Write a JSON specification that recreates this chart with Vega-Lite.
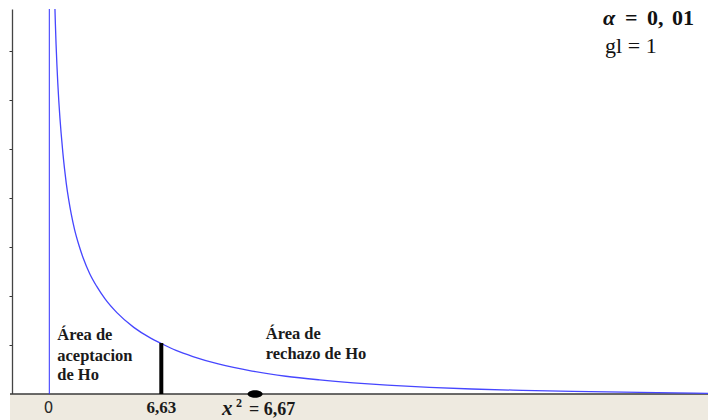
{
  "$schema": "https://vega.github.io/schema/vega-lite/v6.json",
  "width": 696,
  "height": 385,
  "autosize": "none",
  "padding": {"left": 12, "top": 9, "right": 0, "bottom": 26},
  "background": "white",
  "config": {"view": {"stroke": null}},
  "datasets": {
    "band": [{"x": -2.326, "x2": 38.99, "y": 0, "y2": -0.531}],
    "curve": [
      {"x": 0.30, "y": 8.31}, {"x": 0.33, "y": 7.91}, {"x": 0.36, "y": 7.55}, {"x": 0.40, "y": 7.14},
      {"x": 0.45, "y": 6.72}, {"x": 0.50, "y": 6.36}, {"x": 0.56, "y": 5.99}, {"x": 0.63, "y": 5.63},
      {"x": 0.70, "y": 5.32}, {"x": 0.80, "y": 4.93}, {"x": 0.90, "y": 4.60}, {"x": 1.0, "y": 4.31},
      {"x": 1.15, "y": 3.96}, {"x": 1.3, "y": 3.67}, {"x": 1.5, "y": 3.35}, {"x": 1.75, "y": 3.04},
      {"x": 2.0, "y": 2.78}, {"x": 2.4, "y": 2.45}, {"x": 2.8, "y": 2.20}, {"x": 3.3, "y": 1.94},
      {"x": 4.0, "y": 1.66}, {"x": 5.0, "y": 1.36}, {"x": 6.0, "y": 1.14}, {"x": 6.63, "y": 1.03},
      {"x": 7.5, "y": 0.89}, {"x": 8.5, "y": 0.765}, {"x": 10.0, "y": 0.615}, {"x": 12.0, "y": 0.468},
      {"x": 14.0, "y": 0.362}, {"x": 16.0, "y": 0.288}, {"x": 18.0, "y": 0.229}, {"x": 20.0, "y": 0.182},
      {"x": 22.5, "y": 0.137}, {"x": 25.0, "y": 0.102}, {"x": 28.0, "y": 0.075}, {"x": 31.0, "y": 0.053},
      {"x": 34.0, "y": 0.037}, {"x": 37.0, "y": 0.021}, {"x": 39.0, "y": 0.014}
    ],
    "zero": [{"x": 0, "y": 0, "y2": 7.857}],
    "bar": [{"x": 6.63, "y": 0, "y2": 1.04}],
    "stat": [{"x": 12.18, "y": 0}],
    "lbl0": [{"x": -0.05, "y": -0.394, "t": "0"}],
    "lbl663": [{"x": 6.63, "y": -0.382, "t": "6,63"}],
    "lblx": [{"x": 10.22, "y": -0.429, "t": "x"}],
    "lblsup": [{"x": 11.05, "y": -0.265, "t": "2"}],
    "lbleq": [{"x": 11.82, "y": -0.429, "t": "= 6,67"}],
    "areas": [
      {"x": 0.47, "y": 1.102, "t": "Área de"},
      {"x": 0.47, "y": 0.680, "t": "aceptacion"},
      {"x": 0.47, "y": 0.286, "t": "de Ho"},
      {"x": 12.81, "y": 1.116, "t": "Área de"},
      {"x": 12.81, "y": 0.708, "t": "rechazo de Ho"}
    ],
    "alpha": [{"x": 32.78, "y": 7.531, "t": "α"}],
    "alphaval": [
      {"x": 34.08, "y": 7.531, "t": "="},
      {"x": 35.38, "y": 7.531, "t": "0,"},
      {"x": 36.86, "y": 7.531, "t": "01"}
    ],
    "gl": [{"x": 32.9, "y": 6.953, "t": "gl = 1"}]
  },
  "encoding": {
    "x": {"field": "x", "type": "quantitative", "scale": {"domain": [-2.208, 38.99], "nice": false, "zero": false}, "axis": null},
    "y": {"field": "y", "type": "quantitative", "scale": {"domain": [0, 7.857], "nice": false, "zero": false},
      "axis": {"values": [1, 2, 3, 4, 5, 6, 7], "labels": false, "grid": false, "title": null, "domainColor": "#444", "domainWidth": 1.3, "tickColor": "#333", "tickSize": 3, "tickWidth": 1}}
  },
  "layer": [
    {"data": {"name": "band"}, "mark": {"type": "rect", "color": "#EEEAE0"},
     "encoding": {"x2": {"field": "x2"}, "y2": {"field": "y2"}}},
    {"data": {"name": "band"}, "mark": {"type": "rule", "color": "#3a3a3a", "strokeWidth": 1.5},
     "encoding": {"x2": {"field": "x2"}}},
    {"data": {"name": "zero"}, "mark": {"type": "rule", "color": "#2f2fff", "strokeWidth": 1},
     "encoding": {"y2": {"field": "y2"}}},
    {"data": {"name": "curve"}, "mark": {"type": "line", "color": "#4646ff", "strokeWidth": 1.3, "interpolate": "monotone", "clip": true}},
    {"data": {"name": "bar"}, "mark": {"type": "rule", "color": "black", "strokeWidth": 4},
     "encoding": {"y2": {"field": "y2"}}},
    {"data": {"name": "stat"}, "mark": {"type": "point", "filled": true, "color": "black", "opacity": 1, "size": 225, "shape": "M -1 0 A 1 0.5 0 1 0 1 0 A 1 0.5 0 1 0 -1 0 Z"}},
    {"data": {"name": "lbl0"}, "mark": {"type": "text", "font": "DejaVu Sans", "fontSize": 15, "color": "#2a2a2a", "align": "center", "baseline": "alphabetic"},
     "encoding": {"text": {"field": "t"}}},
    {"data": {"name": "lbl663"}, "mark": {"type": "text", "font": "Liberation Serif", "fontWeight": "bold", "fontSize": 17, "color": "#1a1a1a", "align": "center", "baseline": "alphabetic"},
     "encoding": {"text": {"field": "t"}}},
    {"data": {"name": "lblx"}, "mark": {"type": "text", "font": "Liberation Serif", "fontWeight": "bold", "fontStyle": "italic", "fontSize": 21, "color": "#1a1a1a", "align": "left", "baseline": "alphabetic"},
     "encoding": {"text": {"field": "t"}}},
    {"data": {"name": "lblsup"}, "mark": {"type": "text", "font": "Liberation Serif", "fontWeight": "bold", "fontSize": 12, "color": "#1a1a1a", "align": "left", "baseline": "alphabetic"},
     "encoding": {"text": {"field": "t"}}},
    {"data": {"name": "lbleq"}, "mark": {"type": "text", "font": "Liberation Serif", "fontWeight": "bold", "fontSize": 18, "color": "#1a1a1a", "align": "left", "baseline": "alphabetic"},
     "encoding": {"text": {"field": "t"}}},
    {"data": {"name": "areas"}, "mark": {"type": "text", "font": "Liberation Serif", "fontWeight": "bold", "fontSize": 16.5, "color": "#1a1a1a", "align": "left", "baseline": "alphabetic"},
     "encoding": {"text": {"field": "t"}}},
    {"data": {"name": "alpha"}, "mark": {"type": "text", "font": "Liberation Serif", "fontWeight": "bold", "fontStyle": "italic", "fontSize": 22, "color": "#111", "align": "left", "baseline": "alphabetic"},
     "encoding": {"text": {"field": "t"}}},
    {"data": {"name": "alphaval"}, "mark": {"type": "text", "font": "Liberation Serif", "fontWeight": "bold", "fontSize": 22, "color": "#111", "align": "left", "baseline": "alphabetic"},
     "encoding": {"text": {"field": "t"}}},
    {"data": {"name": "gl"}, "mark": {"type": "text", "font": "Liberation Serif", "fontSize": 22, "color": "#111", "align": "left", "baseline": "alphabetic"},
     "encoding": {"text": {"field": "t"}}}
  ]
}
